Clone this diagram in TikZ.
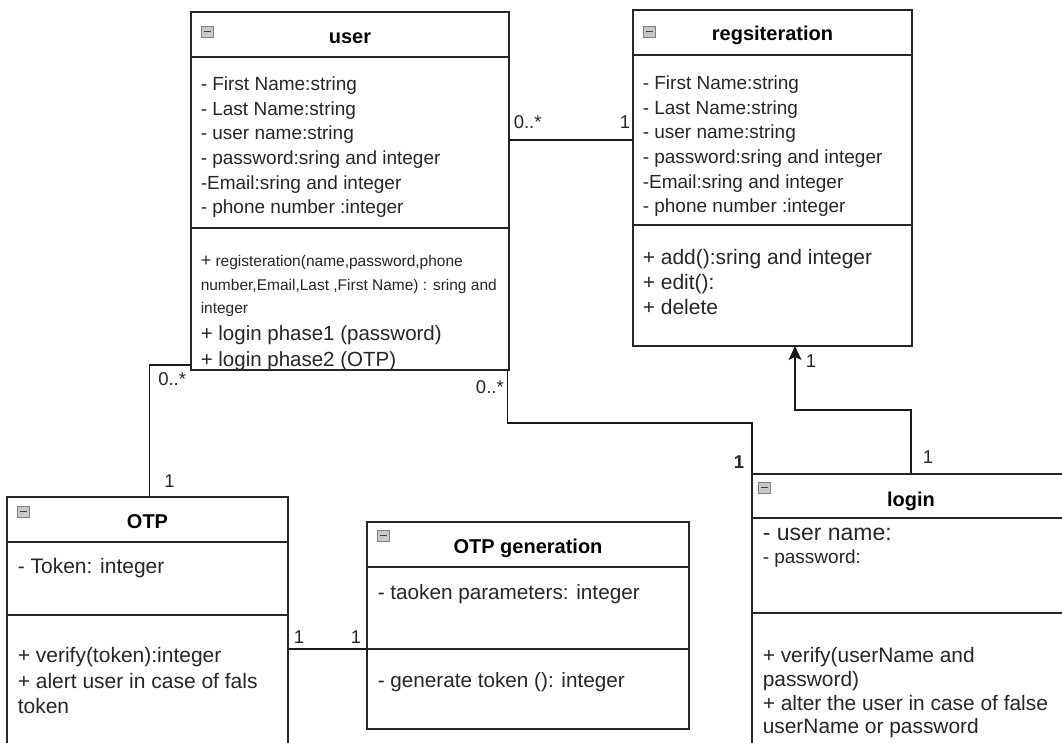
\documentclass[tikz,border=0pt]{standalone}
\usepackage{fontspec}
\setmainfont{Liberation Sans}
\usetikzlibrary{positioning,arrows.meta,calc}

\begin{document}
\begin{tikzpicture}[x=1pt,y=-1pt,line width=1.5pt,
    compart/.style={draw=black!85,rectangle,inner sep=0pt,outer sep=0pt,anchor=north west},
    title/.style={font=\fontsize{20}{24}\selectfont\bfseries,inner sep=0pt,anchor=base},
    members/.style={align=left,inner sep=0pt,anchor=north west,text=black!85},
    attrtext/.style={members,font=\fontsize{19}{24.6}\selectfont},
    bodytext/.style={members,font=\fontsize{21}{25.3}\selectfont},
    mult/.style={font=\fontsize{18.5}{20}\selectfont,inner sep=0pt,anchor=base west,text=black!85},
    toggle/.style={draw=black!50,fill=black!22,line width=.8pt,minimum width=12pt,minimum height=11pt,
      inner sep=0pt,outer sep=0pt,anchor=north west,
      path picture={\draw[black!75,line width=1.8pt]
        ([xshift=2.5pt]path picture bounding box.west) -- ([xshift=-2.5pt]path picture bounding box.east);}},
    assoc/.style={draw=black!90,line width=1.5pt}]
  \useasboundingbox (0,0) rectangle (1062,742);
  \clip (0,0) rectangle (1062,742);

  % user
  \node[compart,minimum width=318pt,minimum height=45pt] (user) at (191,12) {};
  \node[compart,minimum width=318pt,minimum height=171pt,below=0pt of user] (user-attr) {};
  \node[compart,minimum width=318pt,minimum height=142pt,below=0pt of user-attr] (user-ops) {};
  \node[below right=14pt and 10pt of user.north west,toggle] (user-toggle) {};
  \node[below=31pt of user.north,title] (user-title) {user};
  \node[below right=15.8pt and 9pt of user-attr.north west,attrtext] (user-fields) {\strut- First Name:string\\- Last Name:string\\- user name:string\\- password:sring and integer\\-Email:sring and integer\\- phone number :integer};
  \node[below right=21.5pt and 9pt of user-ops.north west,members,font=\fontsize{15.5}{23.5}\selectfont] (user-methods)
    {\strut{\fontsize{18}{20}\selectfont+} registeration(name,password,phone\\number,Email,Last ,First Name) : sring and\\integer};
  \node[below right=94.3pt and 9pt of user-ops.north west,members,font=\fontsize{20.5}{25.3}\selectfont] (user-phases) {\strut+ login phase1 (password)\\+ login phase2 (OTP)};

  % regsiteration
  \node[compart,minimum width=279pt,minimum height=45pt] (reg) at (633,10) {};
  \node[compart,minimum width=279pt,minimum height=170pt,below=0pt of reg] (reg-attr) {};
  \node[compart,minimum width=279pt,minimum height=121pt,below=0pt of reg-attr] (reg-ops) {};
  \node[below right=16pt and 10pt of reg.north west,toggle] (reg-toggle) {};
  \node[below=30pt of reg.north,title] (reg-title) {regsiteration};
  \node[below right=16.8pt and 9pt of reg-attr.north west,attrtext] (reg-fields) {\strut- First Name:string\\- Last Name:string\\- user name:string\\- password:sring and integer\\-Email:sring and integer\\- phone number :integer};
  \node[below right=21.5pt and 9pt of reg-ops.north west,members,font=\fontsize{21}{25}\selectfont] (reg-methods) {\strut+ add():sring and integer\\+ edit():\\+ delete};

  % OTP
  \node[compart,minimum width=281pt,minimum height=45pt] (otp) at (7,497) {};
  \node[compart,minimum width=281pt,minimum height=73pt,below=0pt of otp] (otp-attr) {};
  \node[compart,minimum width=281pt,minimum height=150pt,below=0pt of otp-attr] (otp-ops) {};
  \node[below right=9pt and 10pt of otp.north west,toggle] (otp-toggle) {};
  \node[below=31pt of otp.north,title] (otp-title) {OTP};
  \node[below right=13.3pt and 10pt of otp-attr.north west,bodytext] (otp-fields) {\strut- Token: integer};
  \node[below right=29.3pt and 10pt of otp-ops.north west,bodytext] (otp-methods) {\strut+ verify(token):integer\\+ alert user in case of fals\\token};

  % OTP generation
  \node[compart,minimum width=322pt,minimum height=45pt] (gen) at (367,522) {};
  \node[compart,minimum width=322pt,minimum height=82pt,below=0pt of gen] (gen-attr) {};
  \node[compart,minimum width=322pt,minimum height=80pt,below=0pt of gen-attr] (gen-ops) {};
  \node[below right=8pt and 10pt of gen.north west,toggle] (gen-toggle) {};
  \node[below=31pt of gen.north,title] (gen-title) {OTP generation};
  \node[below right=14.3pt and 10pt of gen-attr.north west,members,font=\fontsize{20.7}{25.3}\selectfont] (gen-fields) {\strut- taoken parameters: integer};
  \node[below right=20.3pt and 10pt of gen-ops.north west,members,font=\fontsize{20.7}{25.3}\selectfont] (gen-methods) {\strut- generate token (): integer};

  % login
  \node[compart,minimum width=318pt,minimum height=44pt] (login) at (752,474) {};
  \node[compart,minimum width=318pt,minimum height=95pt,below=0pt of login] (login-attr) {};
  \node[compart,minimum width=318pt,minimum height=150pt,below=0pt of login-attr] (login-ops) {};
  \node[below right=8pt and 6pt of login.north west,toggle] (login-toggle) {};
  \node[below=32pt of login.north,title] (login-title) {login};
  \node[below right=5.9pt and 10pt of login-attr.north west,members,font=\fontsize{23}{23}\selectfont] (login-fields)
    {\strut- user name:\\{\fontsize{19}{20}\selectfont - password:}};
  \node[below right=32.4pt and 10pt of login-ops.north west,members,font=\fontsize{20.9}{23.7}\selectfont] (login-methods)
    {\strut+ verify(userName and\\password)\\+ alter the user in case of false\\userName or password};

  % associations
  \draw[assoc] (reg-attr.west -| user-attr.east)
    -- node[pos=0,mult,xshift=4pt,yshift=12pt] {0..*}
       node[pos=1,mult,anchor=base east,xshift=-2pt,yshift=12pt] {1} (reg-attr.west);
  \draw[assoc] ([yshift=5pt]user-ops.south west)
    -| node[pos=.5,mult,xshift=8pt,yshift=-20pt] {0..*}
       node[pos=1,mult,xshift=14pt,yshift=10pt] {1} ([xshift=2pt]otp.north);
  \draw[assoc] ([xshift=-1.5pt]user-ops.south east)
    |- node[pos=0,mult,anchor=base east,xshift=-3pt,yshift=-23pt] {0..*} ([yshift=51pt]login.north west)
    -- node[pos=1,mult,anchor=base east,font=\fontsize{18.5}{20}\selectfont\bfseries,xshift=-7pt,yshift=6pt] {1} (login.north west);
  \draw[assoc] (gen-attr.south west -| otp-ops.east)
    -- node[pos=0,mult,xshift=5pt,yshift=6pt] {1}
       node[pos=1,mult,anchor=base east,xshift=-5pt,yshift=6pt] {1} (gen-attr.south west);
  \draw[assoc,-{Stealth[length=14pt,width=13pt,inset=3pt]}] (login.north)
    -- node[pos=0,mult,xshift=11pt,yshift=11pt] {1} ++(0,-64)
    -| node[pos=1,mult,xshift=10pt,yshift=-21pt] {1} ([xshift=22.5pt]reg-ops.south);
\end{tikzpicture}
\end{document}
